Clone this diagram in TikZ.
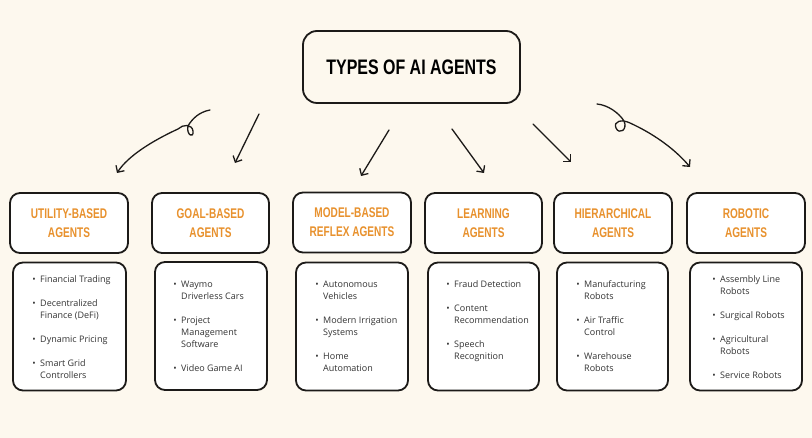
\documentclass[tikz,border=0pt]{standalone}
\usepackage{fontspec}
\setmainfont{Open Sans}
\newfontfamily\titlefont[FakeStretch=0.76]{Liberation Sans}
\newfontfamily\headfont[FakeStretch=0.72]{Liberation Sans}
\usetikzlibrary{arrows.meta}
\definecolor{bg}{HTML}{FDF8EE}
\definecolor{orng}{HTML}{E8912D}
\definecolor{txt}{HTML}{333333}
\definecolor{ink}{HTML}{1C1A18}
\newcommand\itembul{\llap{\textbullet\hspace{4.5pt}}}
\begin{document}
\begin{tikzpicture}[x=1pt,y=-1pt,
  box/.style={draw=ink, line width=1.8pt, rounded corners=10pt, fill=white, inner sep=0pt},
  headbox/.style={box, minimum height=60pt, font=\headfont\bfseries\fontsize{14}{19}\selectfont, text=orng, align=center},
  listbox/.style={box, minimum height=128pt},
  listtxt/.style={font=\fontsize{9}{12}\selectfont, text=txt, align=left, anchor=north west, inner sep=0pt},
  arr/.style={draw=ink, line width=1.3pt, line cap=round, line join=round, -{Straight Barb[length=5pt,width=10pt]}}]
\fill[bg] (0,0) rectangle (812,438);
\useasboundingbox (0,0) rectangle (812,438);

% title
\node[box, fill=bg, rounded corners=14pt, minimum width=217pt, minimum height=72pt,
      font=\titlefont\bfseries\fontsize{21}{24}\selectfont] (title) at (411.5,67) {TYPES OF AI AGENTS};

% header boxes
\node[headbox, minimum width=118pt] (h1) at (69,223) {UTILITY-BASED\\AGENTS};
\node[headbox, minimum width=117pt] (h2) at (210.5,223) {GOAL-BASED\\AGENTS};
\node[headbox, minimum width=118pt] (h3) at (352,222.5) {MODEL-BASED\\REFLEX AGENTS};
\node[headbox, minimum width=117pt] (h4) at (483.5,223) {LEARNING\\AGENTS};
\node[headbox, minimum width=118pt] (h5) at (613,223) {HIERARCHICAL\\AGENTS};
\node[headbox, minimum width=118pt] (h6) at (746,223) {ROBOTIC\\AGENTS};

% list boxes
\node[listbox, minimum width=113pt] (l1) at (69.5,326.5) {};
\node[listbox, minimum width=112pt] (l2) at (211,326) {};
\node[listbox, minimum width=112pt] (l3) at (352,326.5) {};
\node[listbox, minimum width=111pt] (l4) at (483.5,326.5) {};
\node[listbox, minimum width=111pt] (l5) at (612.5,326.5) {};
\node[listbox, minimum width=112pt] (l6) at (746,326.5) {};

% list texts
\node[listtxt] (t1) at (40,273.6) {\strut\itembul Financial Trading\\[12pt]
  \itembul Decentralized\\Finance (DeFi)\\[12pt]
  \itembul Dynamic Pricing\\[12pt]
  \itembul Smart Grid\\Controllers};
\node[listtxt] (t2) at (181,278.6) {\strut\itembul Waymo\\Driverless Cars\\[12pt]
  \itembul Project\\Management\\Software\\[12pt]
  \itembul Video Game AI};
\node[listtxt] (t3) at (323,278.6) {\strut\itembul Autonomous\\Vehicles\\[12pt]
  \itembul Modern Irrigation\\Systems\\[12pt]
  \itembul Home\\Automation};
\node[listtxt] (t4) at (454,278.6) {\strut\itembul Fraud Detection\\[12pt]
  \itembul Content\\Recommendation\\[12pt]
  \itembul Speech\\Recognition};
\node[listtxt] (t5) at (584,278.6) {\strut\itembul Manufacturing\\Robots\\[12pt]
  \itembul Air Traffic\\Control\\[12pt]
  \itembul Warehouse\\Robots};
\node[listtxt] (t6) at (720,273.6) {\strut\itembul Assembly Line\\Robots\\[12pt]
  \itembul Surgical Robots\\[12pt]
  \itembul Agricultural\\Robots\\[12pt]
  \itembul Service Robots};

% arrow end points
\coordinate (s1) at (210,110); \coordinate (e1) at (117,173);
\coordinate (s2) at (259,114); \coordinate (e2) at (235,163);
\coordinate (s3) at (389,130); \coordinate (e3) at (361,176);
\coordinate (s4) at (452,129); \coordinate (e4) at (484,173);
\coordinate (s5) at (533,124); \coordinate (e5) at (571,162);
\coordinate (s6) at (597,104); \coordinate (e6) at (690,167);

\draw[arr] (s1) .. controls (199,112) and (192,119) .. (188,126)
  .. controls (186,135) and (194,139) .. (193,131)
  .. controls (192,124) and (183,124) .. (178,129)
  .. controls (152,141) and (128,156) .. (e1);
\draw[arr] (s2) -- (e2);
\draw[arr] (s3) -- (e3);
\draw[arr] (s4) -- (e4);
\draw[arr] (s5) -- (e5);
\draw[arr] (s6) .. controls (608,105) and (619,113) .. (624,121)
  .. controls (628,130) and (619,135) .. (616,128)
  .. controls (613,121) and (622,119) .. (630,123)
  .. controls (652,133) and (674,148) .. (e6);
\end{tikzpicture}
\end{document}
